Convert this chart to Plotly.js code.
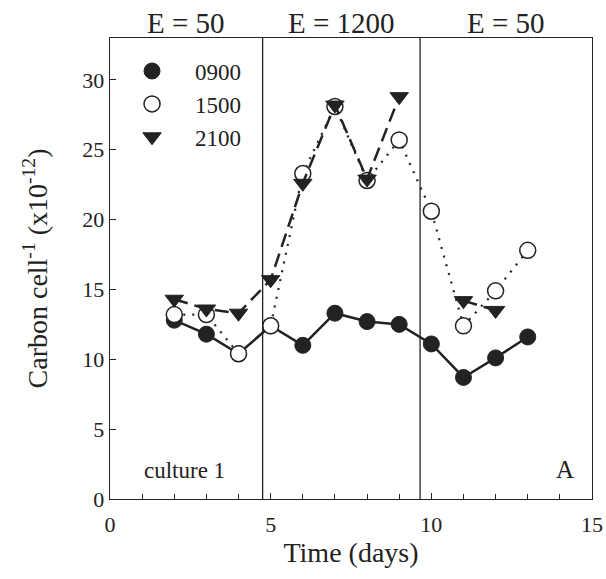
<!DOCTYPE html>
<html>
<head>
<meta charset="utf-8">
<script src="https://cdn.plot.ly/plotly-3.0.1.min.js"></script>
<style>html,body{margin:0;padding:0;background:#fff;}#chart{width:606px;height:579px;}</style>
</head>
<body>
<div id="chart"></div>
<script>
var days = [2, 3, 4, 5, 6, 7, 8, 9, 10, 11, 12, 13];
var carbon0900 = [12.8, 11.8, 10.4, 12.4, 11.0, 13.3, 12.7, 12.5, 11.1, 8.7, 10.1, 11.6];
var carbon1500 = [13.2, 13.2, 10.4, 12.4, 23.3, 28.1, 22.8, 25.7, 20.6, 12.4, 14.9, 17.8];
var carbon2100 = [14.3, 13.6, 13.3, 15.7, 22.6, 28.2, 22.9, 28.8, null, 14.2, 13.5, null];
var seriesNames = ['0900', '1500', '2100'];
var phaseBounds = [4.75, 9.65];
var phaseLabels = ['E = 50', 'E = 1200', 'E = 50'];
var xMax = 15, yMax = 33;

var ink = '#222';
var serif = 'Liberation Serif, Times New Roman, serif';

var styles = [
  {mode: 'lines+markers', line: {color: ink, width: 2.5, dash: 'solid'},
   marker: {symbol: 'circle', size: 16, color: ink, line: {color: ink, width: 1}}},
  {mode: 'lines+markers', line: {color: ink, width: 2.2, dash: '2px,7px'},
   marker: {symbol: 'circle', size: 16, color: '#fff', line: {color: ink, width: 1.5}}},
  {mode: 'lines+markers', line: {color: ink, width: 2.5, dash: '14px,7px'},
   marker: {symbol: 'triangle-down', size: 16, color: ink, line: {color: ink, width: 1}}}
];
var values = [carbon0900, carbon1500, carbon2100];

var traces = [];
values.forEach(function (v, i) {
  traces.push({x: days, y: v, type: 'scatter', mode: styles[i].mode, line: styles[i].line,
               marker: styles[i].marker, showlegend: false, connectgaps: false});
});
// legend-only traces (markers only)
values.forEach(function (v, i) {
  traces.push({x: [null], y: [null], type: 'scatter', mode: 'markers', name: seriesNames[i],
               marker: styles[i].marker, showlegend: true});
});

var bounds = [0].concat(phaseBounds).concat([xMax]);
var shapes = phaseBounds.map(function (b) {
  return {type: 'line', xref: 'x', yref: 'paper', x0: b, x1: b, y0: 0, y1: 1,
          line: {color: ink, width: 1.3}};
});
var annotations = phaseLabels.map(function (lab, i) {
  return {text: lab, xref: 'x', yref: 'paper', x: (bounds[i] + bounds[i + 1]) / 2, y: 1,
          yanchor: 'bottom', yshift: -3, showarrow: false, font: {family: serif, size: 29, color: ink}};
});
annotations.push({text: 'culture 1', xref: 'paper', yref: 'paper', x: 0.066, y: 0.03,
  xanchor: 'left', yanchor: 'bottom', showarrow: false, font: {family: serif, size: 23, color: ink}});
annotations.push({text: 'A', xref: 'paper', yref: 'paper', x: 0.967, y: 0.03,
  xanchor: 'right', yanchor: 'bottom', showarrow: false, font: {family: serif, size: 25, color: ink}});

var layout = {
  width: 606, height: 579,
  margin: {l: 110, r: 14, t: 38, b: 80},
  paper_bgcolor: '#fff', plot_bgcolor: '#fff',
  font: {family: serif, color: ink, size: 22},
  showlegend: true,
  legend: {x: -0.002, y: 0.975, xanchor: 'left', yanchor: 'top', bgcolor: 'rgba(0,0,0,0)',
           font: {family: serif, size: 23, color: ink}, itemwidth: 76, tracegroupgap: 0},
  xaxis: {range: [0, xMax], dtick: 5, tick0: 0, ticks: 'inside', ticklen: 6, tickcolor: ink,
          showline: true, linecolor: ink, linewidth: 1.3, mirror: true, showgrid: false, zeroline: false,
          minor: {dtick: 1, ticks: 'inside', ticklen: 5, tickcolor: ink, showgrid: false},
          ticklabelstandoff: 5,
          tickfont: {family: serif, size: 22, color: ink},
          title: {text: 'Time (days)', font: {family: serif, size: 28, color: ink}, standoff: 6}},
  yaxis: {range: [0, yMax], dtick: 5, tick0: 0, ticks: 'inside', ticklen: 6, tickcolor: ink,
          showline: true, linecolor: ink, linewidth: 1.3, mirror: true, showgrid: false, zeroline: false,
          tickfont: {family: serif, size: 22, color: ink},
          title: {text: 'Carbon cell<sup>-1</sup> (x10<sup>-12</sup>)', font: {family: serif, size: 28, color: ink}, standoff: 26}},
  shapes: shapes,
  annotations: annotations
};

Plotly.newPlot('chart', traces, layout, {staticPlot: true, displayModeBar: false});
</script>
</body>
</html>
